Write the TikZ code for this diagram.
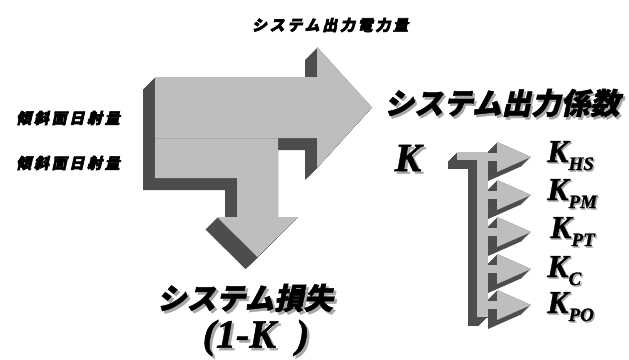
\documentclass[tikz,border=0pt]{standalone}
\usepackage{fontspec}
\setmainfont{Liberation Serif}[BoldItalicFeatures={FakeBold=1.2}]
\newfontfamily\jpf{Noto Sans CJK JP}[FakeSlant=0.22, FakeBold=1.5]
\newfontfamily\jpsp{Noto Sans CJK JP}[FakeSlant=0.22, FakeBold=4, LetterSpace=18]
\definecolor{facegray}{HTML}{BEBEBE}
\definecolor{sidegray}{HTML}{4D4D4D}
\definecolor{shadowgray}{HTML}{A8A8A8}
\newcommand\bigarrowA[1]{\fill[#1] (155,77) -- (317,77) -- (317,47) -- (372,107.5) -- (317,168) -- (317,138) -- (155,138) -- cycle;}
\newcommand\bigarrowB[1]{\fill[#1] (155,138) -- (278,138) -- (278,217) -- (298,217) -- (257.5,257) -- (217,217) -- (237,217) -- (237,178) -- (155,178) -- cycle;}
\newcommand\combshape[1]{%
  \fill[#1] (457,152) rectangle (488,160);
  \fill[#1] (477,152) rectangle (488,317);
  \foreach \yc in {157,195,232,269,305}{%
    \fill[#1] (487,\yc-4) rectangle (498,\yc+4);
    \fill[#1] (497,\yc-15) -- (531,\yc) -- (497,\yc+15) -- cycle;
  }}
\begin{document}
\begin{tikzpicture}[x=1pt,y=-1pt,
  jpsmall/.style={font={\jpsp\bfseries\fontsize{15}{15}\selectfont}, inner sep=0pt},
  jpbig/.style={font={\jpf\bfseries\fontsize{29.5}{29.5}\selectfont}, inner sep=0pt},
  kbig/.style={font={\bfseries\itshape\fontsize{40}{40}\selectfont}, inner sep=0pt},
  klab/.style={font={\bfseries\itshape\fontsize{32}{32}\selectfont}, inner sep=0pt, anchor=base west},
  shadow/.style={text=shadowgray}]
\useasboundingbox (0,0) rectangle (629,359);
\fill[white] (0,0) rectangle (629,359);
% big 3D arrow: extrusion then faces
\foreach \t in {0,1,...,12}{%
  \bigarrowA{sidegray, shift={(-\t,\t)}}
  \bigarrowB{sidegray, shift={(-\t,\t)}}
}
\bigarrowA{facegray}
\bigarrowB{facegray}
\draw[shadowgray, line width=0.8pt] (155,138) -- (278,138);
% comb 3D arrow
\foreach \t in {0,1,...,9}{%
  \combshape{sidegray, shift={(-\t,\t)}}
}
\combshape{facegray}
% small labels
\node[jpsmall] (out) at (330,25) {システム出力電力量};
\node[jpsmall] (in1) at (68,118) {傾斜面日射量};
\node[jpsmall] (in2) at (68,163) {傾斜面日射量};
% big labels with shadow
\node[jpbig, shadow] (coefs) at (504,105.5) {システム出力係数};
\node[jpbig] (coef) at (502,103) {システム出力係数};
\node[jpbig, shadow] (losss) at (247.5,300.5) {システム損失};
\node[jpbig] (loss) at (245,298) {システム損失};
\node[kbig, shadow] (lossks) at (258.5,340.5) {(1-K\ \ )};
\node[kbig] (lossk) at (256,338) {(1-K\ \ )};
\node[kbig, shadow] (kks) at (410.5,160.5) {K};
\node[kbig] (kk) at (408,158) {K};
% comb labels
\foreach \nm/\xx/\yy/\sb in {hs/547/162/HS, pm/547/200/PM, pt/550/238/PT, c/547/277/C, po/547/313/PO}{%
  \node[klab, shadow] (k\nm s) at (\xx+1.5,\yy+1.5) {K\raisebox{-8pt}{\fontsize{19}{19}\selectfont\sb}};
  \node[klab] (k\nm) at (\xx,\yy) {K\raisebox{-8pt}{\fontsize{19}{19}\selectfont\sb}};
}
\end{tikzpicture}
\end{document}
